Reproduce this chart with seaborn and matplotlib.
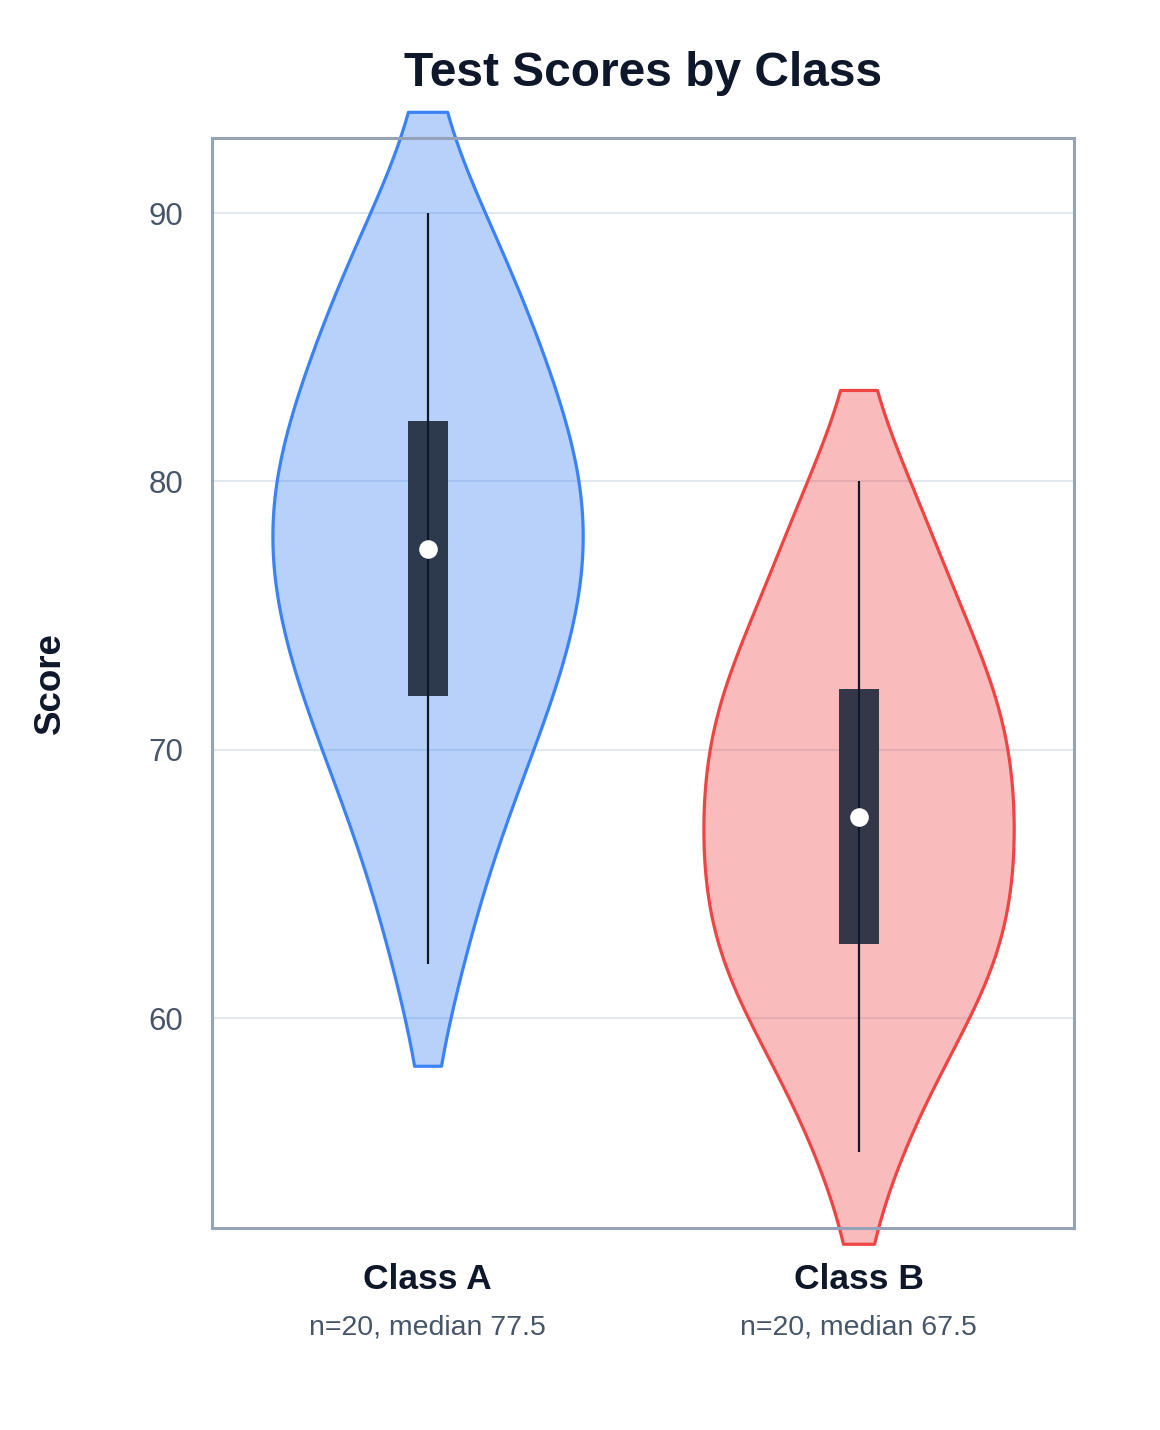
import numpy as np
import pandas as pd
import matplotlib
matplotlib.use('Agg')
import matplotlib.pyplot as plt
import seaborn as sns

# Scores per class (20 students each)
class_a = [62, 66, 68, 70, 72, 72, 74, 75, 76, 77, 78, 79, 80, 81, 82, 83, 85, 86, 88, 90]
class_b = [55, 58, 60, 61, 62, 63, 64, 65, 66, 67, 68, 69, 70, 71, 72, 73, 74, 76, 78, 80]
classes = ['Class A', 'Class B']
line_colors = ['#3b82f6', '#ef4444']
y_ticks = [60, 70, 80, 90]

df = pd.DataFrame({
    'Class': ['Class A'] * len(class_a) + ['Class B'] * len(class_b),
    'Score': class_a + class_b,
})

sns.set_style('white')
plt.rcParams['font.family'] = ['Liberation Sans', 'DejaVu Sans']

fig = plt.figure(figsize=(11.6, 14.3), dpi=100)
ax = fig.add_axes([0.1828, 0.1413, 0.7431, 0.7622])

sns.violinplot(data=df, x='Class', y='Score', hue='Class', order=classes,
               palette=line_colors, inner=None, cut=1.02, bw_adjust=0.9, width=0.72,
               density_norm='width', linewidth=2.3, legend=False, ax=ax)

# light fill, solid outline, drawn past the frame
for coll, c in zip(ax.collections, line_colors):
    coll.set_facecolor(matplotlib.colors.to_rgba(c, 0.36))
    coll.set_edgecolor(c)
    coll.set_linewidth(2.3)
    coll.set_clip_on(False)
    coll.set_zorder(2)

# inner box: whisker line, IQR box, median dot
for i, vals in enumerate([class_a, class_b]):
    q1, med, q3 = np.percentile(vals, [25, 50, 75])
    ax.vlines(i, min(vals), max(vals), color='#0f172a', linewidth=1.6, zorder=4)
    ax.bar(i, q3 - q1, bottom=q1, width=0.093, color='#1e293b', alpha=0.9,
           linewidth=0, zorder=3)
    ax.scatter([i], [med], s=180, color='white', zorder=5, linewidths=0)

ax.set_xlim(-0.5, 1.5)
ax.set_ylim(52.18, 92.8)
ax.set_yticks(y_ticks)
ax.set_yticklabels([str(t) for t in y_ticks], fontsize=22.5, color='#475569')
ax.tick_params(axis='y', length=0, pad=21)
ax.tick_params(axis='x', length=0)
ax.yaxis.grid(True, color='#e2e8f0', linewidth=1.5, zorder=0)
ax.set_axisbelow(True)

for s in ax.spines.values():
    s.set_visible(True)
    s.set_color('#94a3b8')
    s.set_linewidth(2.2)
    s.set_zorder(6)

ax.set_xticks([0, 1])
ax.set_xticklabels([])
ax.set_xlabel('')
ax.set_ylabel('')
for i, (name, vals) in enumerate(zip(classes, [class_a, class_b])):
    ax.text(i, -0.0477, name, transform=ax.get_xaxis_transform(), ha='center',
            va='center', fontsize=25.5, fontweight='bold', color='#0f172a')
    ax.text(i, -0.0917, f'n={len(vals)}, median {np.median(vals):g}',
            transform=ax.get_xaxis_transform(), ha='center', va='center',
            fontsize=20.5, color='#475569')

fig.text(50 / 1160, 1 - 683 / 1430, 'Score', rotation=90, ha='center', va='center',
         fontsize=26.5, fontweight='bold', color='#0f172a')
fig.text(643 / 1160, 1 - 73 / 1430, 'Test Scores by Class', ha='center', va='center',
         fontsize=34.5, fontweight='bold', color='#0f172a')

fig.savefig('out.png', dpi=100, facecolor='white')
